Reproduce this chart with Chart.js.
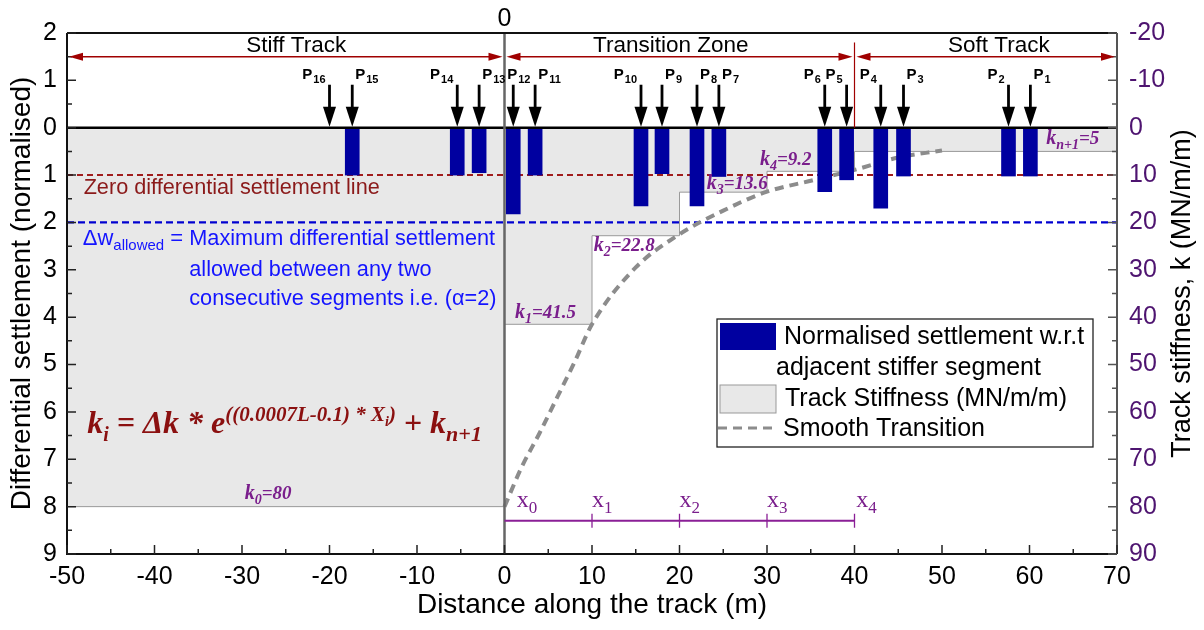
<!DOCTYPE html>
<html>
<head>
<meta charset="utf-8">
<script src="https://cdn.jsdelivr.net/npm/chart.js@4.4.0/dist/chart.umd.min.js"></script>
<style>
  html, body { margin: 0; padding: 0; background: #fff; }
</style>
</head>
<body>
<canvas id="myChart" width="1204" height="630"></canvas>
<script>
// Lastpunkte P16 ... P1 (Position in m, normalisierte Setzung)
const loadNames = ['16','15','14','13','12','11','10','9','8','7','6','5','4','3','2','1'];
const loadPos = [-20, -17.4, -5.4, -2.9, 1.0, 3.5, 15.6, 18.0, 22.0, 24.5, 36.6, 39.1, 43.0, 45.6, 57.6, 60.1];
const settlement = [0, 1.0, 1.0, 0.95, 1.82, 1.0, 1.65, 0.97, 1.65, 1.03, 1.35, 1.1, 1.7, 1.02, 1.02, 1.02];
// -1 = Beschriftung links vom Pfeil, 1 = rechts, 0 = mittig
const labelSide = [-1, 1, -1, 1, 0, 1, -1, 1, 1, 1, -1, -1, -1, 1, -1, 1];

// Steifigkeit je Segment (MN/m/m)
const stepX = [-50, 0, 10, 20, 30, 40, 70];
const stepK = [80, 41.5, 22.8, 13.6, 9.2, 5, 5];
const kNames = ['0', '1', '2', '3', '4', 'n+1'];
const kValues = ['80', '41.5', '22.8', '13.6', '9.2', '5'];
const kLabelX = [-29.7, 1.2, 10.2, 23.1, 29.2, 61.9];
const kLabelK = [77.2, 39.0, 24.7, 11.6, 6.5, 2.1];

// glatter Uebergang
const smoothX = [0, 2, 4, 6, 8, 10, 15, 20, 25, 30, 35, 40, 45, 50];
const smoothK = [80, 71.5, 64.5, 57, 49.5, 41.5, 29.5, 22.5, 17.5, 13.5, 11.2, 8.9, 6.3, 4.8];

// Zonen
const zoneNames = ['Stiff Track', 'Transition Zone', 'Soft Track'];
const zoneStart = [-50, 0, 40];
const zoneEnd = [0, 40, 70];
const zoneLabelX = [-23.8, 19, 56.5];

// Bezugslinien (normalisiert)
const refX = [-50, 70];
const zeroLevel = 0;
const zeroDiffLevel = 1;
const allowedLevel = 2;

// x-Marken im Uebergangsbereich
const markX = [0, 10, 20, 30, 40];
const markLabelX = [1.4, 10, 20, 30, 40.2];
const markLevel = 8.3;

const SANS = '"Liberation Sans", Arial, sans-serif';
const SERIF = '"Liberation Serif", "DejaVu Serif", serif';

function drawParts(ctx, parts, x, y, color) {
  let cx = x;
  ctx.fillStyle = color;
  for (const p of parts) {
    ctx.font = p[1];
    ctx.fillText(p[0], cx, y + (p[2] || 0));
    cx += ctx.measureText(p[0]).width;
  }
  return cx;
}

function arrowHead(ctx, xTip, yc, dir, len, half) {
  ctx.beginPath();
  ctx.moveTo(xTip, yc);
  ctx.lineTo(xTip - dir * len, yc - half);
  ctx.lineTo(xTip - dir * len, yc + half);
  ctx.closePath();
  ctx.fill();
}

const deco = {
  id: 'deco',
  afterDatasetsDraw(chart) {
    const { ctx, chartArea: a, scales } = chart;
    const x = scales.x, y = scales.y, y2 = scales.y2;
    ctx.save();

    // senkrechte Linie bei 0
    const x0 = x.getPixelForValue(0);
    ctx.strokeStyle = '#666';
    ctx.lineWidth = 2.5;
    ctx.beginPath(); ctx.moveTo(x0, a.top); ctx.lineTo(x0, a.bottom); ctx.stroke();

    // Rahmen
    ctx.strokeStyle = '#111';
    ctx.lineWidth = 2;
    ctx.beginPath();
    ctx.moveTo(a.left, a.top); ctx.lineTo(a.right, a.top);
    ctx.moveTo(a.left, a.top); ctx.lineTo(a.left, a.bottom); ctx.lineTo(a.right, a.bottom);
    ctx.stroke();
    ctx.strokeStyle = '#555';
    ctx.beginPath(); ctx.moveTo(a.right, a.top); ctx.lineTo(a.right, a.bottom); ctx.stroke();

    // Ticks nach innen
    ctx.lineWidth = 1.5;
    ctx.strokeStyle = '#222';
    ctx.beginPath();
    for (let v = -2; v <= 9.001; v += 0.5) {
      const py = y.getPixelForValue(v);
      const len = Math.abs(v % 1) < 0.01 ? 9 : 5;
      ctx.moveTo(a.left, py); ctx.lineTo(a.left + len, py);
    }
    for (let v = -50; v <= 70; v += 5) {
      const px = x.getPixelForValue(v);
      const len = v % 10 === 0 ? 9 : 5;
      ctx.moveTo(px, a.bottom); ctx.lineTo(px, a.bottom - len);
    }
    ctx.stroke();
    ctx.strokeStyle = '#555';
    ctx.beginPath();
    for (let v = -20; v <= 90; v += 5) {
      const py = y2.getPixelForValue(v);
      const len = v % 10 === 0 ? 9 : 5;
      ctx.moveTo(a.right, py); ctx.lineTo(a.right - len, py);
    }
    ctx.stroke();

    // "0" oben
    ctx.fillStyle = '#000';
    ctx.font = '25px ' + SANS;
    ctx.textAlign = 'center';
    ctx.textBaseline = 'middle';
    ctx.fillText('0', x0, a.top - 14);

    // Zonenpfeile
    const yz = y.getPixelForValue(-1.5);
    ctx.strokeStyle = '#a00000';
    ctx.fillStyle = '#a00000';
    ctx.lineWidth = 1.5;
    for (let i = 0; i < zoneNames.length; i++) {
      const xa = x.getPixelForValue(zoneStart[i]) + 2;
      const xb = x.getPixelForValue(zoneEnd[i]) - 2;
      ctx.beginPath(); ctx.moveTo(xa + 6, yz); ctx.lineTo(xb - 6, yz); ctx.stroke();
      arrowHead(ctx, xa, yz, -1, 14, 4);
      arrowHead(ctx, xb, yz, 1, 14, 4);
    }
    // rote Trennlinie bei 40
    const x40 = x.getPixelForValue(zoneStart[2]);
    ctx.lineWidth = 1.2;
    ctx.beginPath(); ctx.moveTo(x40, y.getPixelForValue(-1.8)); ctx.lineTo(x40, y.getPixelForValue(0)); ctx.stroke();

    ctx.fillStyle = '#000';
    ctx.font = '22.5px ' + SANS;
    ctx.textAlign = 'center';
    for (let i = 0; i < zoneNames.length; i++) {
      ctx.fillText(zoneNames[i], x.getPixelForValue(zoneLabelX[i]), y.getPixelForValue(-1.73));
    }

    // Lastpfeile
    const yb = y.getPixelForValue(0);
    ctx.fillStyle = '#000';
    ctx.strokeStyle = '#000';
    for (let i = 0; i < loadPos.length; i++) {
      const px = x.getPixelForValue(loadPos[i]);
      ctx.lineWidth = 2.8;
      ctx.beginPath(); ctx.moveTo(px, yb - 43); ctx.lineTo(px, yb - 19); ctx.stroke();
      ctx.beginPath();
      ctx.moveTo(px, yb - 1);
      ctx.lineTo(px - 6.5, yb - 21);
      ctx.lineTo(px + 6.5, yb - 21);
      ctx.closePath(); ctx.fill();

      ctx.textAlign = 'left';
      ctx.textBaseline = 'alphabetic';
      ctx.font = 'bold 15px ' + SANS;
      const wP = ctx.measureText('P').width;
      ctx.font = 'bold 11px ' + SANS;
      const wN = ctx.measureText(loadNames[i]).width;
      const w = wP + 1 + wN;
      let lx = px + 3;
      if (labelSide[i] < 0) lx = px - 4 - w;
      else if (labelSide[i] === 0) lx = px - 6;
      ctx.font = 'bold 15px ' + SANS;
      ctx.fillText('P', lx, yb - 49);
      ctx.font = 'bold 11px ' + SANS;
      ctx.fillText(loadNames[i], lx + wP + 1, yb - 45);
    }

    // Text: Nullsetzungslinie
    ctx.textAlign = 'left';
    ctx.textBaseline = 'middle';
    ctx.fillStyle = '#8b1a1a';
    ctx.font = '21.7px ' + SANS;
    ctx.fillText('Zero differential settlement line', x.getPixelForValue(-48.1), y.getPixelForValue(1.27));

    // blauer Text
    const bx = x.getPixelForValue(-48.2);
    const by1 = y.getPixelForValue(2.35);
    const bend = drawParts(ctx, [
      ['\u0394w', '22px ' + SANS, 0],
      ['allowed', '15px ' + SANS, 7],
      [' = ', '22px ' + SANS, 0]
    ], bx, by1, '#1414ff');
    ctx.font = '21.7px ' + SANS;
    ctx.fillText('Maximum differential settlement', bend, by1);
    ctx.fillText('allowed between any two', bend, y.getPixelForValue(3.0));
    ctx.fillText('consecutive segments i.e. (\u03b1=2)', bend, y.getPixelForValue(3.62));

    // Formel
    const BI = (s) => 'bold italic ' + s + 'px ' + SERIF;
    const fParts = [
      ['k', BI(32), 0], ['i', BI(20), 8], [' = \u0394k * e', BI(32), 0],
      ['((0.0007L-0.1) * X', BI(21), -12], ['i', BI(14), -7], [')', BI(21), -12],
      [' + k', BI(32), 0], ['n+1', BI(22), 8]
    ];
    ctx.textBaseline = 'alphabetic';
    drawParts(ctx, fParts, x.getPixelForValue(-47.7), y.getPixelForValue(6.45), '#8b1010');

    // k-Beschriftungen
    for (let i = 0; i < kNames.length; i++) {
      const kx = x.getPixelForValue(kLabelX[i]);
      const ky = y2.getPixelForValue(kLabelK[i]) + 6;
      drawParts(ctx, [
        ['k', BI(20), 0], [kNames[i], BI(14), 5], ['=' + kValues[i], BI(19), 0]
      ], kx, ky, '#7a1e8c');
    }

    // x-Marken
    const ym = y.getPixelForValue(markLevel);
    ctx.strokeStyle = '#8a1f96';
    ctx.lineWidth = 2;
    ctx.beginPath();
    ctx.moveTo(x.getPixelForValue(markX[0]), ym);
    ctx.lineTo(x.getPixelForValue(markX[markX.length - 1]), ym);
    ctx.stroke();
    ctx.lineWidth = 1.3;
    ctx.beginPath();
    for (let i = 1; i < markX.length; i++) {
      const px = x.getPixelForValue(markX[i]);
      ctx.moveTo(px, ym - 7); ctx.lineTo(px, ym + 7);
    }
    ctx.stroke();
    for (let i = 0; i < markX.length; i++) {
      drawParts(ctx, [['x', '24px ' + SERIF, 0], [String(i), '17px ' + SERIF, 6]],
        x.getPixelForValue(markLabelX[i]), y.getPixelForValue(8.0), '#7a1e8c');
    }

    // rechte Achsenbeschriftung
    ctx.save();
    ctx.translate(1183, (a.top + a.bottom) / 2);
    ctx.rotate(-Math.PI / 2);
    ctx.textAlign = 'center';
    ctx.textBaseline = 'middle';
    ctx.fillStyle = '#000';
    ctx.font = '27px ' + SANS;
    ctx.fillText('Track stiffness, k (MN/m/m)', 0, 0);
    ctx.restore();

    // Legende
    const lx = a.right - 400, ly = a.top + 286;
    ctx.fillStyle = '#fff';
    ctx.fillRect(lx, ly, 376, 128);
    ctx.strokeStyle = '#222';
    ctx.lineWidth = 1.3;
    ctx.strokeRect(lx, ly, 376, 128);
    ctx.fillStyle = '#0000a0';
    ctx.fillRect(lx + 3, ly + 4, 56, 27);
    ctx.fillStyle = '#e8e8e8';
    ctx.fillRect(lx + 3, ly + 66, 56, 28);
    ctx.strokeStyle = '#999';
    ctx.lineWidth = 1;
    ctx.strokeRect(lx + 3, ly + 66, 56, 28);
    ctx.strokeStyle = '#8c8c8c';
    ctx.lineWidth = 3;
    ctx.setLineDash([9, 6]);
    ctx.beginPath(); ctx.moveTo(lx + 1, ly + 109); ctx.lineTo(lx + 56, ly + 109); ctx.stroke();
    ctx.setLineDash([]);
    ctx.fillStyle = '#000';
    ctx.font = '25px ' + SANS;
    ctx.textAlign = 'left';
    ctx.textBaseline = 'middle';
    ctx.fillText('Normalised settlement w.r.t', lx + 67, ly + 18);
    ctx.fillText('adjacent stiffer segment', lx + 59, ly + 49);
    ctx.fillText('Track Stiffness (MN/m/m)', lx + 68, ly + 80);
    ctx.fillText('Smooth Transition', lx + 66, ly + 110);

    ctx.restore();
  }
};

new Chart(document.getElementById('myChart'), {
  type: 'bar',
  data: {
    datasets: [
      {
        type: 'line', label: 'zero', yAxisID: 'y',
        data: refX.map(v => ({ x: v, y: zeroLevel })),
        borderColor: '#000', borderWidth: 2.5, pointRadius: 0, order: -1
      },
      {
        type: 'bar', label: 'Normalised settlement', yAxisID: 'y',
        data: loadPos.map((p, i) => ({ x: p, y: settlement[i] })),
        backgroundColor: '#0000a0', barThickness: 14, order: 0
      },
      {
        type: 'line', label: 'Smooth Transition', yAxisID: 'y2',
        data: smoothX.map((v, i) => ({ x: v, y: smoothK[i] })),
        borderColor: '#8c8c8c', borderWidth: 4, borderDash: [9, 6],
        pointRadius: 0, cubicInterpolationMode: 'monotone', fill: false, order: 1
      },
      {
        type: 'line', label: 'zero diff', yAxisID: 'y',
        data: refX.map(v => ({ x: v, y: zeroDiffLevel })),
        borderColor: '#a01c1c', borderWidth: 2, borderDash: [6, 4], pointRadius: 0, order: 3
      },
      {
        type: 'line', label: 'allowed', yAxisID: 'y',
        data: refX.map(v => ({ x: v, y: allowedLevel })),
        borderColor: '#0000d0', borderWidth: 2.2, borderDash: [7, 4], pointRadius: 0, order: 3
      },
      {
        type: 'line', label: 'Track Stiffness', yAxisID: 'y2',
        data: stepX.map((v, i) => ({ x: v, y: stepK[i] })),
        stepped: 'before', fill: { value: 0 },
        backgroundColor: '#e8e8e8', borderColor: '#9a9a9a', borderWidth: 1,
        pointRadius: 0, order: 5
      }
    ]
  },
  options: {
    responsive: false,
    animation: false,
    devicePixelRatio: 1,
    layout: { padding: { top: 33, left: 0, right: 0, bottom: 0 } },
    plugins: { legend: { display: false }, tooltip: { enabled: false } },
    scales: {
      x: {
        type: 'linear', min: -50, max: 70, offset: false,
        grid: { display: false, drawTicks: false },
        border: { display: false },
        ticks: { stepSize: 10, color: '#000', font: { size: 25, family: SANS }, padding: 8, maxRotation: 0, autoSkip: false },
        title: { display: true, text: 'Distance along the track (m)', color: '#000',
                 font: { size: 28, family: SANS, lineHeight: 1.2 }, padding: { top: 0, bottom: 8 } },
        afterFit: s => { s.height = 76; }
      },
      y: {
        position: 'left', min: -2, max: 9, reverse: true,
        grid: { display: false, drawTicks: false },
        border: { display: false },
        ticks: { stepSize: 1, color: '#000', font: { size: 25, family: SANS }, padding: 10,
                 callback: v => Math.abs(v) },
        title: { display: true, text: 'Differential settlement (normalised)', color: '#000',
                 font: { size: 28, family: SANS, lineHeight: 1.2 }, padding: { top: 5, bottom: 0 } },
        afterFit: s => { s.width = 67; }
      },
      y2: {
        position: 'right', min: -20, max: 90, reverse: true,
        grid: { display: false, drawTicks: false },
        border: { display: false },
        ticks: { stepSize: 10, color: '#4e1470', font: { size: 25, family: SANS }, padding: 12 },
        afterFit: s => { s.width = 87; }
      }
    }
  },
  plugins: [deco]
});
</script>
</body>
</html>
